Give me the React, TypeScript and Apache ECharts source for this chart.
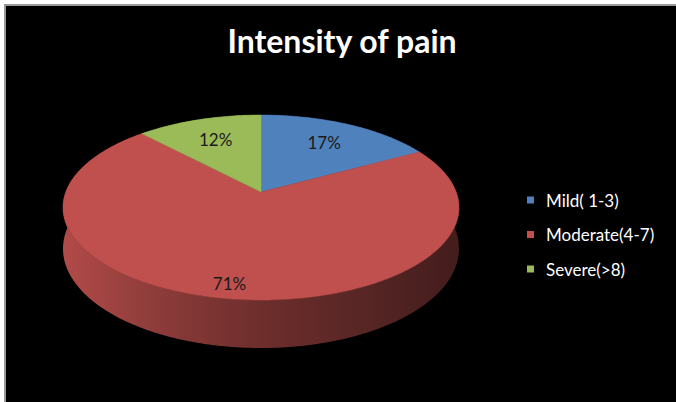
import React, { useEffect, useRef } from "react";
import * as echarts from "echarts";

const chartTitle = "Intensity of pain";
const categories = ["Mild( 1-3)", "Moderate(4-7)", "Severe(>8)"];
const values = [17, 71, 12];
const colors = ["#4F81BD", "#C0504D", "#9BBB59"];
const wallStops = [
  ["#3a5f8c", "#263f5e"],
  ["#b24b49", "#8b3b39", "#6d2e2c", "#582625", "#431c1c"],
  ["#738a42", "#4d5c2c"],
];

// projection of the tilted disc (perspective)
const CX = 261;
const CY = 192;
const RX = 195.2;
const RY = 89.9;
const PERSP = 0.1676;
const DEPTH = 40;

function project(phiDeg: number, f: number): [number, number, number] {
  const phi = (phiDeg * Math.PI) / 180;
  const z = f * Math.cos(phi);
  const x = f * Math.sin(phi);
  const w = 1 + PERSP * z;
  return [CX + (RX * x) / w, CY - (RY * z) / w, w];
}

function makeRender(idx: number) {
  return (params: any, api: any) => {
    const total = values.reduce((a, b) => a + b, 0);
    let start = 0;
    for (let i = 0; i < idx; i++) start += (values[i] / total) * 360;
    const v = api.value(0);
    const span = (v / total) * 360;
    const n = Math.max(2, Math.ceil(span));
    const top: number[][] = [];
    const bottom: number[][] = [];
    for (let k = 0; k <= n; k++) {
      const a = start + (span * k) / n;
      const [x, y, w] = project(a, 1);
      top.push([x, y]);
      bottom.push([x, y + DEPTH / w]);
    }
    const wall = top.concat(bottom.slice().reverse());
    const face = [[CX, CY], ...top];
    const mid = start + span / 2;
    const frac = v / total;
    const [lx, ly] = project(mid, frac > 0.5 ? 0.88 : 0.7);
    const stops = wallStops[idx].map((c, i, arr) => ({
      offset: arr.length === 1 ? 0 : i / (arr.length - 1),
      color: c,
    }));
    const grad = new echarts.graphic.LinearGradient(CX - RX * 1.02, 0, CX + RX * 1.02, 0, stops, true);
    return {
      type: "group",
      children: [
        {
          type: "polygon",
          z2: 1,
          shape: { points: wall },
          style: { fill: grad, stroke: null },
        },
        {
          type: "polygon",
          z2: 10,
          shape: { points: face },
          style: { fill: colors[idx], stroke: colors[idx], lineWidth: 0.5 },
        },
        {
          type: "text",
          z2: 20,
          x: lx,
          y: ly,
          style: {
            text: Math.round(frac * 100) + "%",
            fill: "#1a1a1a",
            fontSize: 17,
            fontFamily: "Lato",
            align: "center",
            verticalAlign: "middle",
          },
        },
      ],
    };
  };
}

export default function App() {
  const ref = useRef<HTMLDivElement>(null);
  useEffect(() => {
    if (!ref.current) return;
    const chart = echarts.init(ref.current, undefined, { renderer: "svg" });
    chart.setOption({
      animation: false,
      backgroundColor: "#000000",
      title: {
        text: chartTitle,
        left: 342,
        textAlign: "center",
        top: 24,
        padding: 0,
        textStyle: { color: "#ffffff", fontSize: 32, fontWeight: "bold", fontFamily: "Lato" },
      },
      legend: {
        orient: "vertical",
        left: 527,
        top: 191,
        padding: 0,
        itemWidth: 7,
        itemHeight: 7,
        itemGap: 16.5,
        icon: "rect",
        data: categories,
        textStyle: { color: "#ffffff", fontSize: 17, fontFamily: "Lato", lineHeight: 18, padding: [0, 0, 0, 7] },
      },
      graphic: [
        { type: "rect", shape: { x: 0, y: 0, width: 676, height: 4 }, style: { fill: "#ffffff" } },
        { type: "rect", shape: { x: 0, y: 0, width: 4, height: 402 }, style: { fill: "#ffffff" } },
        { type: "rect", shape: { x: 4, y: 4, width: 672, height: 2 }, style: { fill: "#9a9a9a" } },
        { type: "rect", shape: { x: 4, y: 4, width: 2, height: 398 }, style: { fill: "#9a9a9a" } },
      ],
      series: categories.map((name, i) => ({
        type: "custom",
        name,
        coordinateSystem: "none",
        itemStyle: { color: colors[i] },
        data: [values[i]],
        renderItem: makeRender(i),
      })),
    });
    return () => chart.dispose();
  }, []);
  return (
    <div
      ref={ref}
      style={{ position: "fixed", left: 0, top: 0, width: 676, height: 402 }}
    />
  );
}
